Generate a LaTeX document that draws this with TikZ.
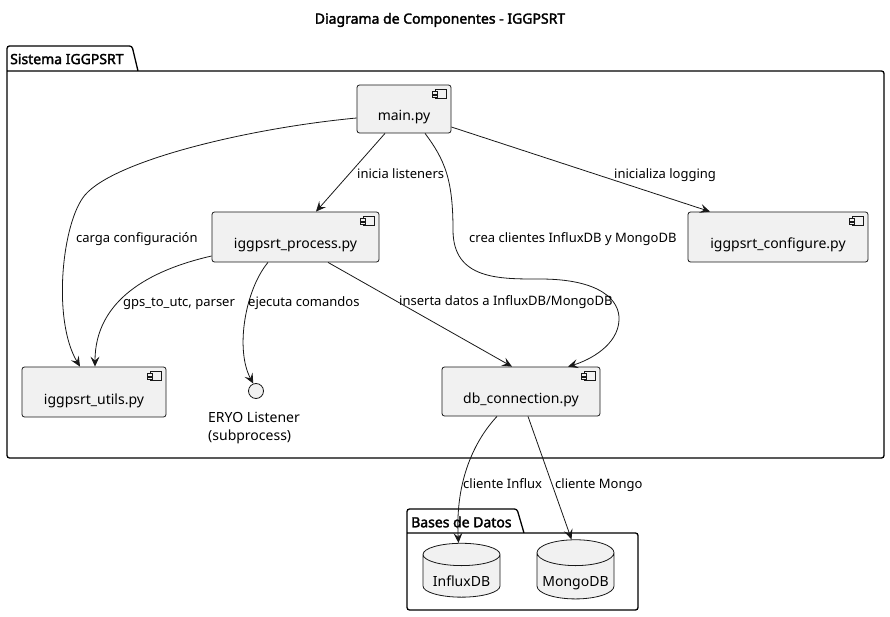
\documentclass[tikz,border=0pt]{standalone}
\usepackage{fontspec}
\setmainfont{Noto Sans}[AutoFakeBold=2.2]
\usetikzlibrary{shapes.geometric}
\usetikzlibrary{arrows.meta}
\definecolor{linec}{HTML}{181818}
\definecolor{boxc}{HTML}{F1F1F1}
\tikzset{
    comp/.style = {rectangle, draw=linec, fill=boxc, rounded corners=2.5pt, line width=0.8pt, inner sep=0pt, text height=24pt, text depth=0pt, font=\fontsize{14}{17}\selectfont},
    dbase/.style = {cylinder, shape border rotate=90, aspect=0.39, draw=linec, fill=boxc, line width=0.8pt, inner sep=0pt, minimum width=77pt, minimum height=40pt, text height=20pt, text depth=0pt, font=\fontsize{14}{17}\selectfont},
    iface/.style = {circle, draw=linec, fill=boxc, line width=0.8pt, minimum size=15pt, inner sep=0pt},
    icon/.style = {draw=linec, fill=boxc, line width=0.6pt},
    pkg/.style = {draw=black, line width=1.3pt, rounded corners=2.5pt},
    pkgtitle/.style = {anchor=west, inner sep=0pt, font=\fontsize{14}{17}\selectfont\bfseries},
    lbl/.style = {anchor=west, inner sep=0pt, text height=9.5pt, text depth=3pt, font=\fontsize{13}{16}\selectfont},
    edgen/.style = {-{Stealth[length=10pt,width=9pt,inset=4pt]}, draw=linec, line width=0.8pt},
}
\begin{document}
\begin{tikzpicture}[x=1pt,y=-1pt]
\useasboundingbox (0,0) rectangle (890,617);
%
\node[font=\fontsize{14}{17}\selectfont\bfseries] (title) at (440,20) {Diagrama de Componentes - IGGPSRT};
%
% packages
\draw[pkg] (7,71) -- (884,71) -- (884,458) -- (7,458) -- (7,46) -- (132,46) -- (138,71);
\node[pkgtitle] (sysname) at (10,59) {Sistema IGGPSRT};
\draw[pkg] (407,533) -- (638,533) -- (638,610) -- (407,610) -- (407,509) -- (517,509) -- (524,533);
\node[pkgtitle] (dbname) at (411,522) {Bases de Datos};
%
% components
\node[comp, minimum width=94pt, minimum height=48pt] at (404,109) (main) {main.py};
\node[comp, minimum width=167pt, minimum height=50pt] at (295.5,237) (process) {iggpsrt\_process.py};
\node[comp, minimum width=180pt, minimum height=50pt] at (778,237) (configure) {iggpsrt\_configure.py};
\node[comp, minimum width=144pt, minimum height=50pt] at (94,392) (utils) {iggpsrt\_utils.py};
\node[comp, minimum width=158pt, minimum height=49pt] at (521,391.5) (db) {db\_connection.py};
\node[iface] at (256,391) (eryo) {};
\node[align=left, anchor=west, inner sep=0pt, font=\fontsize{14}{18}\selectfont] at (208,428) (eryoname) {ERYO Listener\\(subprocess)};
\node[dbase] at (461.5,576) (influx) {InfluxDB};
\node[dbase] at (575.5,576) (mongo) {MongoDB};
%
\foreach \n in {main,process,configure,utils,db}{
  \draw[icon] ([shift={(-16,5)}]\n.north east) rectangle +(11,9);
  \draw[icon] ([shift={(-19,7)}]\n.north east) rectangle +(5,2.5);
  \draw[icon] ([shift={(-19,10.5)}]\n.north east) rectangle +(5,2.5);
}
%
\draw[edgen] ([yshift=-9pt]main.west) .. controls (250,128) and (115,160) .. (85,195)
    .. controls (62,222) and (52,320) .. ([xshift=-14pt]utils.north);
\draw[edgen] ([xshift=-19pt]main.south) -- ([xshift=20.5pt]process.north);
\draw[edgen] ([yshift=-18pt]main.east) -- ([xshift=-68pt]configure.north);
\draw[edgen] ([xshift=21pt]main.south) .. controls (445,160) and (453,180) .. (453,230)
    .. controls (453,280) and (500,279) .. (540,279)
    .. controls (600,279) and (620,300) .. (619,320)
    .. controls (618,345) and (590,360) .. ([xshift=47pt]db.north);
\draw[edgen] ([yshift=-19pt]process.west) .. controls (150,270) and (95,300) .. ([xshift=1pt]utils.north);
\draw[edgen] ([xshift=-27.5pt]process.south) .. controls (245,290) and (235,350) .. (eryo.110);
\draw[edgen] ([xshift=32.5pt]process.south) -- ([xshift=-9pt]db.north);
\draw[edgen] ([xshift=-24pt]db.south) .. controls (475,440) and (455,480) .. ([xshift=-3pt]influx.north);
\draw[edgen] ([xshift=7pt]db.south) -- ([xshift=-4pt]mongo.north);
%
\node[lbl] (l1) at (76,239) {carga configuración};
\node[lbl] (l2) at (357,175) {inicia listeners};
\node[lbl] (l3) at (614,175) {inicializa logging};
\node[lbl] (l4) at (469,239) {crea clientes InfluxDB y MongoDB};
\node[lbl] (l5) at (123,303) {gps\_to\_utc, parser};
\node[lbl] (l6) at (248,303) {ejecuta comandos};
\node[lbl] (l7) at (399,302) {inserta datos a InfluxDB/MongoDB};
\node[lbl] (l8) at (463,485) {cliente Influx};
\node[lbl] (l9) at (555,485) {cliente Mongo};
\end{tikzpicture}
\end{document}
